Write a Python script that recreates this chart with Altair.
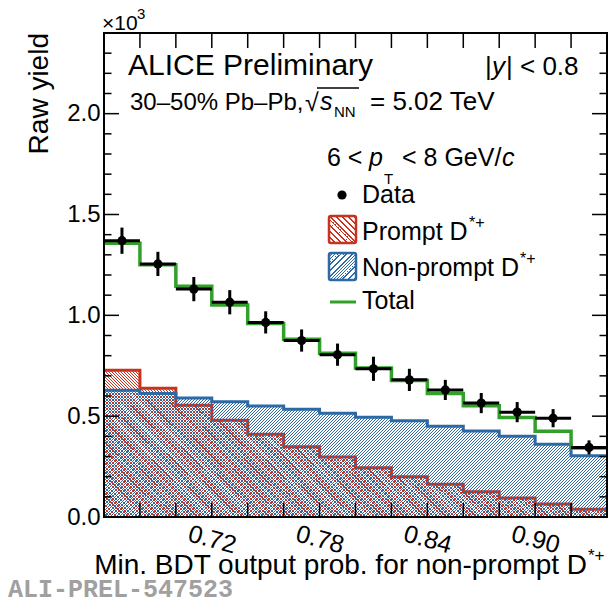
import altair as alt
import pandas as pd

# ---------------- data ----------------
edges = [0.66, 0.68, 0.70, 0.72, 0.74, 0.76, 0.78, 0.80, 0.82, 0.84, 0.86, 0.88, 0.90, 0.92, 0.94]
data_y = [1.37, 1.255, 1.13, 1.065, 0.965, 0.875, 0.805, 0.735, 0.68, 0.63, 0.565, 0.52, 0.49, 0.345]
data_err = [0.065, 0.06, 0.06, 0.06, 0.055, 0.055, 0.055, 0.06, 0.055, 0.05, 0.05, 0.05, 0.045, 0.035]
prompt = [0.728, 0.638, 0.554, 0.48, 0.41, 0.348, 0.297, 0.244, 0.2, 0.162, 0.125, 0.094, 0.064, 0.038]
nonprompt = [0.629, 0.613, 0.59, 0.571, 0.55, 0.534, 0.515, 0.495, 0.477, 0.45, 0.427, 0.4, 0.361, 0.304]
total = [1.357, 1.251, 1.144, 1.051, 0.96, 0.882, 0.812, 0.739, 0.677, 0.612, 0.552, 0.494, 0.425, 0.342]
x_labels = [0.72, 0.78, 0.84, 0.90]
y_labels = [0.0, 0.5, 1.0, 1.5, 2.0]
y_minor = [round(i * 0.1, 1) for i in range(25) if i % 5 != 0]
x_ticks = edges[1:-1]

RED = "#c8331f"
BLUE = "#2c69a5"
GREEN = "#33a02c"
FONT = "Liberation Sans"

W, H = 503, 484
YMAX = 2.4

xs = alt.Scale(domain=[0.66, 0.94], nice=False, zero=False)
ys = alt.Scale(domain=[0, YMAX], nice=False)

X_AX = alt.Axis(values=x_labels, format=".2f", ticks=False, tickSize=0, domain=False, grid=False,
                labelAngle=15, labelFontSize=25, labelFont=FONT, labelColor="black",
                labelAlign="center", labelBaseline="middle", labelPadding=22, title=None)
Y_AX = alt.Axis(values=y_labels, format=".1f", ticks=False, tickSize=0, domain=False, grid=False,
                labelFontSize=24, labelFont=FONT, labelColor="black", labelPadding=4, title=None)


def X(f, **kw):
    return alt.X(f, type="quantitative", scale=xs, axis=X_AX, **kw)


def Y(f, **kw):
    return alt.Y(f, type="quantitative", scale=ys, axis=Y_AX, **kw)


def hatch(color, w, h, direction, period=3.0, line=1.0):
    """45-degree hatch as a hard-stop linear gradient with an exact pixel period."""
    k = h / w
    a = (1 + k) / (1 + k * k)
    L = w + h
    clear = "rgba(255,255,255,0)"
    stops = []
    s = 0.0
    while s < L:
        t0 = round(min(s / L, 1.0), 6)
        t1 = round(min((s + line) / L, 1.0), 6)
        t2 = round(min((s + period) / L, 1.0), 6)
        stops += [alt.GradientStop(color=color, offset=t0), alt.GradientStop(color=color, offset=t1),
                  alt.GradientStop(color=clear, offset=t1), alt.GradientStop(color=clear, offset=t2)]
        s += period
    if direction == "/":
        return alt.LinearGradient(gradient="linear", stops=stops, x1=0, y1=0, x2=a, y2=a * k)
    return alt.LinearGradient(gradient="linear", stops=stops, x1=0, y1=1, x2=a, y2=1 - a * k)


hist = pd.DataFrame({
    "x": edges,
    "prompt": prompt + [prompt[-1]],
    "nonprompt": nonprompt + [nonprompt[-1]],
    "total": total + [total[-1]],
})
pts = pd.DataFrame({
    "xc": [(edges[i] + edges[i + 1]) / 2 for i in range(len(data_y))],
    "xl": edges[:-1],
    "xh": edges[1:],
    "y": data_y,
    "lo": [v - e for v, e in zip(data_y, data_err)],
    "hi": [v + e for v, e in zip(data_y, data_err)],
})

h_red = max(prompt) / YMAX * H
h_blue = max(nonprompt) / YMAX * H

red_area = alt.Chart(hist).mark_area(interpolate="step-after", fill=hatch(RED, W, h_red, "\\"),
                                      strokeWidth=0).encode(x=X("x"), y=Y("prompt"))
blue_area = alt.Chart(hist).mark_area(interpolate="step-after", fill=hatch(BLUE, W, h_blue, "/"),
                                       strokeWidth=0).encode(x=X("x"), y=Y("nonprompt"))
red_line = alt.Chart(hist).mark_line(interpolate="step-after", color=RED, strokeWidth=3).encode(
    x=X("x"), y=Y("prompt"))
blue_line = alt.Chart(hist).mark_line(interpolate="step-after", color=BLUE, strokeWidth=3).encode(
    x=X("x"), y=Y("nonprompt"))
green_line = alt.Chart(hist).mark_line(interpolate="step-after", color=GREEN, strokeWidth=3.5).encode(
    x=X("x"), y=Y("total"))

err_v = alt.Chart(pts).mark_rule(color="black", strokeWidth=3).encode(x=X("xc"), y=Y("lo"), y2="hi")
err_h = alt.Chart(pts).mark_rule(color="black", strokeWidth=3).encode(x=X("xl"), x2="xh", y=Y("y"))
dots = alt.Chart(pts).mark_point(filled=True, shape="circle", size=85, color="black", opacity=1).encode(
    x=X("xc"), y=Y("y"))

# inward ticks
ymaj = pd.DataFrame({"v": y_labels})
ymin = pd.DataFrame({"v": y_minor})
xt = pd.DataFrame({"v": x_ticks})
tick_style = dict(color="black", strokeWidth=1.5)
ticks = [
    alt.Chart(ymaj).mark_rule(**tick_style).encode(y=Y("v"), x=alt.value(0), x2=alt.value(15)),
    alt.Chart(ymin).mark_rule(**tick_style).encode(y=Y("v"), x=alt.value(0), x2=alt.value(7.5)),
    alt.Chart(ymaj).mark_rule(**tick_style).encode(y=Y("v"), x=alt.value(W), x2=alt.value(W - 15)),
    alt.Chart(ymin).mark_rule(**tick_style).encode(y=Y("v"), x=alt.value(W), x2=alt.value(W - 7.5)),
    alt.Chart(xt).mark_rule(**tick_style).encode(x=X("v"), y=alt.value(0), y2=alt.value(15)),
    alt.Chart(xt).mark_rule(**tick_style).encode(x=X("v"), y=alt.value(H), y2=alt.value(H - 14)),
]

one = pd.DataFrame({"a": [0]})


def txt(s, px, py, size, **kw):
    """px, py: page coordinates of the text anchor."""
    opts = dict(font=FONT, fontSize=size, color="black", align="left", baseline="alphabetic")
    opts.update(kw)
    return alt.Chart(one).mark_text(text=s, **opts).encode(x=alt.value(px - 104), y=alt.value(py - 33))


texts = [
    txt("×10", 102, 30, 21),
    txt("3", 137, 19, 15),
    txt("ALICE Preliminary", 128, 75, 30),
    txt("|", 485, 75, 26),
    txt("y", 492, 75, 26, fontStyle="italic"),
    txt("| < 0.8", 506, 75, 26),
    txt("30–50% Pb–Pb,", 130, 110, 24),
    txt("√", 305, 111, 25),
    txt("s", 320, 110, 25, fontStyle="italic"),
    txt("NN", 334, 117, 15),
    txt("= 5.02 TeV", 370, 110, 26),
    txt("6 <", 327, 166, 25),
    txt("p", 369, 166, 25, fontStyle="italic"),
    txt("T", 384, 184, 15),
    txt("< 8 GeV/", 402, 166, 25),
    txt("c", 502, 166, 25, fontStyle="italic"),
    txt("Data", 362, 203, 25),
    txt("Prompt D", 362, 240, 25),
    txt("*+", 469, 228, 16),
    txt("Non-prompt D", 362, 276, 25),
    txt("*+", 520, 264, 16),
    txt("Total", 362, 309, 25),
    txt("Min. BDT output prob. for non-prompt D", 587, 574, 28, align="right"),
    txt("*+", 588, 561, 17),
    txt("Raw yield", 48, 33, 28, align="right", angle=270),
    txt("ALI-PREL-547523", 8, 597, 25, font="Liberation Mono", fontWeight="bold", color="#a0a0a0"),
]

overline = alt.Chart(one).mark_rule(color="black", strokeWidth=1.5).encode(
    x=alt.value(317 - 104), x2=alt.value(359 - 104), y=alt.value(88 - 33))

# legend symbols (page coordinates)
leg = [
    alt.Chart(one).mark_point(filled=True, shape="circle", size=85, color="black", opacity=1).encode(
        x=alt.value(342 - 104), y=alt.value(195 - 33)),
    alt.Chart(one).mark_rect(fill=hatch(RED, 27, 27, "\\"), stroke=RED, strokeWidth=2.5, cornerRadius=2).encode(
        x=alt.value(329 - 104), x2=alt.value(356 - 104), y=alt.value(216 - 33), y2=alt.value(243 - 33)),
    alt.Chart(one).mark_rect(fill=hatch(BLUE, 27, 27, "/"), stroke=BLUE, strokeWidth=2.5, cornerRadius=2).encode(
        x=alt.value(329 - 104), x2=alt.value(356 - 104), y=alt.value(253 - 33), y2=alt.value(280 - 33)),
    alt.Chart(one).mark_rule(color=GREEN, strokeWidth=3).encode(
        x=alt.value(330 - 104), x2=alt.value(356 - 104), y=alt.value(302 - 33)),
]

frame = alt.Chart(one).mark_rect(fill=None, fillOpacity=0, stroke="black", strokeWidth=2).encode(
    x=alt.value(0), x2=alt.value(W), y=alt.value(0), y2=alt.value(H))

chart = alt.layer(
    red_area, red_line, blue_area, blue_line, green_line, err_h, err_v, dots,
    *ticks, frame, overline, *leg, *texts
).properties(
    width=W, height=H,
    padding={"left": 104, "top": 33, "right": 2, "bottom": 87},
    autosize="none",
    background="white",
).configure_view(stroke=None)

chart.save("out.html", embed_options={"renderer": "svg", "actions": False})
